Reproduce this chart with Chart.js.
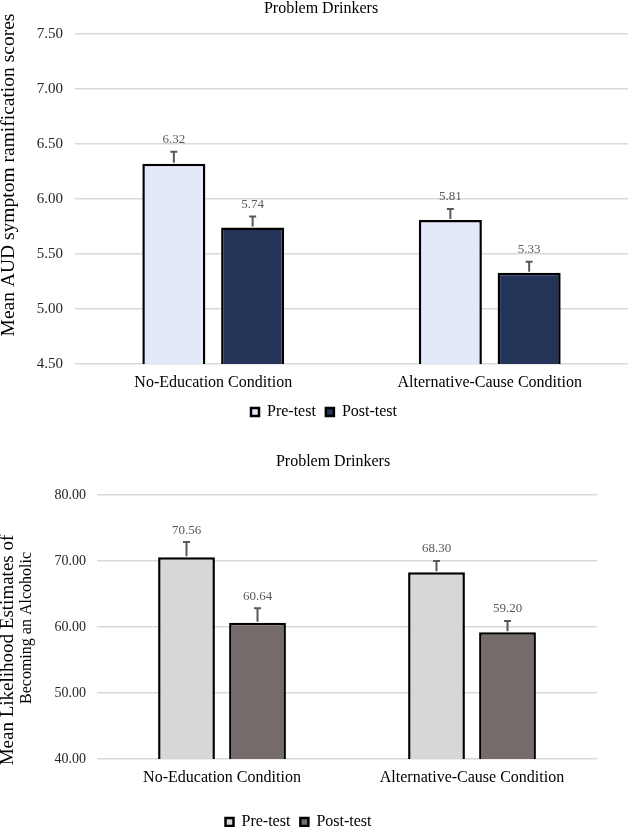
<!DOCTYPE html>
<html>
<head>
<meta charset="utf-8">
<script src="https://cdn.jsdelivr.net/npm/chart.js@4"></script>
<style>
  html, body { margin: 0; padding: 0; background: #fff; overflow: hidden; }
  .caixa { position: absolute; left: 0; width: 629px; }
  #caixa1 { top: 0; }
  #caixa2 { top: 440px; }
</style>
</head>
<body>
<div class="caixa" id="caixa1"><canvas id="grafico1" width="629" height="440"></canvas></div>
<div class="caixa" id="caixa2"><canvas id="grafico2" width="629" height="400"></canvas></div>
<script>
// dados
const categorias = ['No-Education Condition', 'Alternative-Cause Condition'];
const serieNomes = ['Pre-test', 'Post-test'];

const audPre = [6.32, 5.81];
const audPos = [5.74, 5.33];
const audPreErro = [0.11, 0.10];
const audPosErro = [0.10, 0.10];
const audTicks = [4.5, 5.0, 5.5, 6.0, 6.5, 7.0, 7.5];

const likPre = [70.56, 68.30];
const likPos = [60.64, 59.20];
const likPreErro = [2.3, 1.7];
const likPosErro = [2.2, 1.7];
const likTicks = [40, 50, 60, 70, 80];

const fonte = '"Liberation Serif", "Times New Roman", serif';

// barras de erro + rotulo do valor
const barrasErro = {
    id: 'barrasErro',
    afterDatasetsDraw(chart) {
        const ctx = chart.ctx;
        const y = chart.scales.y;
        chart.data.datasets.forEach((ds, i) => {
            const meta = chart.getDatasetMeta(i);
            meta.data.forEach((bar, j) => {
                const topo = y.getPixelForValue(ds.data[j] + ds.erros[j]);
                ctx.save();
                ctx.strokeStyle = '#595959';
                ctx.lineWidth = 2;
                ctx.beginPath();
                ctx.moveTo(bar.x, bar.y - 1);
                ctx.lineTo(bar.x, topo);
                ctx.moveTo(bar.x - 3.5, topo);
                ctx.lineTo(bar.x + 3.5, topo);
                ctx.stroke();
                ctx.fillStyle = '#595959';
                ctx.font = '13px ' + fonte;
                ctx.textAlign = 'center';
                ctx.textBaseline = 'middle';
                ctx.fillText(ds.data[j].toFixed(2), bar.x, topo - 12);
                ctx.restore();
            });
        });
    }
};

// textos soltos (titulo e titulo do eixo y)
const textoLivre = {
    id: 'textoLivre',
    afterDraw(chart, args, opts) {
        const ctx = chart.ctx;
        (opts.itens || []).forEach(t => {
            ctx.save();
            ctx.translate(t.x, t.y);
            ctx.rotate((t.rot || 0) * Math.PI / 180);
            ctx.font = t.font;
            ctx.fillStyle = '#000';
            ctx.textAlign = 'center';
            ctx.textBaseline = 'middle';
            ctx.fillText(t.text, 0, 0);
            ctx.restore();
        });
    }
};

function montarGrafico(id, cfg) {
    return new Chart(document.getElementById(id), {
        type: 'bar',
        data: {
            labels: categorias,
            datasets: [{
                label: serieNomes[0],
                data: cfg.pre,
                erros: cfg.preErro,
                backgroundColor: cfg.cores[0],
                borderColor: '#000',
                borderWidth: 2.5,
                borderSkipped: false,
                categoryPercentage: cfg.catPct,
                barPercentage: 0.8
            }, {
                label: serieNomes[1],
                data: cfg.pos,
                erros: cfg.posErro,
                backgroundColor: cfg.cores[1],
                borderColor: '#000',
                borderWidth: 2.5,
                borderSkipped: false,
                categoryPercentage: cfg.catPct,
                barPercentage: 0.8
            }]
        },
        options: {
            responsive: false,
            animation: false,
            layout: { padding: cfg.padding },
            scales: {
                x: {
                    grid: { display: false, drawTicks: false },
                    border: { display: false },
                    ticks: { color: '#000', padding: 9, font: { family: fonte, size: 16 } },
                    afterFit: s => { s.height = cfg.alturaX; }
                },
                y: {
                    min: cfg.ticks[0],
                    max: cfg.ticks[cfg.ticks.length - 1],
                    afterBuildTicks: s => { s.ticks = cfg.ticks.map(v => ({ value: v })); },
                    grid: { color: '#d9d9d9', lineWidth: 1.5, drawTicks: false },
                    border: { display: false },
                    ticks: {
                        color: '#262626',
                        padding: cfg.padTick,
                        font: { family: fonte, size: cfg.tamTick },
                        callback: v => Number(v).toFixed(2)
                    },
                    afterFit: s => { s.width = cfg.larguraY; }
                }
            },
            plugins: {
                legend: {
                    position: 'bottom',
                    labels: {
                        color: '#000',
                        boxWidth: 8,
                        boxHeight: 8,
                        padding: 10,
                        font: { family: fonte, size: 16 }
                    }
                },
                tooltip: { enabled: false },
                textoLivre: { itens: cfg.textos }
            }
        },
        plugins: [barrasErro, textoLivre]
    });
}

montarGrafico('grafico1', {
    pre: audPre, pos: audPos, preErro: audPreErro, posErro: audPosErro,
    ticks: audTicks,
    cores: ['#e3e9f8', '#243358'],
    catPct: 0.57,
    padding: { top: 34, left: 20, right: 1, bottom: 10 },
    larguraY: 55, alturaX: 30, tamTick: 15, padTick: 12,
    textos: [
        { text: 'Problem Drinkers', x: 321, y: 9, font: '16px ' + fonte },
        { text: 'Mean AUD symptom ramification scores', x: 9, y: 175, rot: -90, font: '19.5px ' + fonte }
    ]
});

montarGrafico('grafico2', {
    pre: likPre, pos: likPos, preErro: likPreErro, posErro: likPosErro,
    ticks: likTicks,
    cores: ['#d8d7d5', '#766b6b'],
    catPct: 0.568,
    padding: { top: 55, left: 0, right: 32, bottom: 0 },
    larguraY: 97, alturaX: 45, tamTick: 14, padTick: 11,
    textos: [
        { text: 'Problem Drinkers', x: 333, y: 22, font: '16px ' + fonte },
        { text: 'Mean Likelihood Estimates of', x: 8, y: 210, rot: -90, font: '19px ' + fonte },
        { text: 'Becoming an Alcoholic', x: 27, y: 188, rot: -90, font: '16px ' + fonte }
    ]
});
</script>
</body>
</html>
